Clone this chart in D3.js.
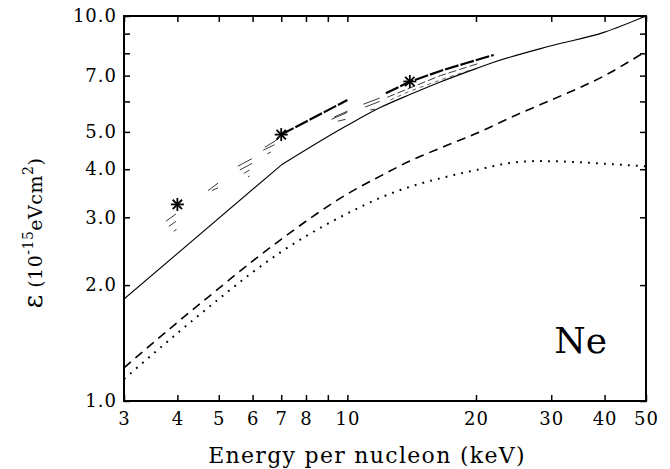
<!DOCTYPE html>
<html>
<head>
<meta charset="utf-8">
<script src="https://cdn.jsdelivr.net/npm/d3@7"></script>
<style>
  body { margin: 0; background: #fff; }
  svg { display: block; }
  text { font-family: "DejaVu Serif", serif; fill: #000; }
</style>
</head>
<body>
<svg id="chart" width="670" height="469"></svg>
<script>
// axis ticks
const xTicks = [3, 4, 5, 6, 7, 8, 9, 10, 20, 30, 40, 50];
const xLabels = [3, 4, 5, 6, 7, 8, 10, 20, 30, 40, 50];
const yTicks = [1, 2, 3, 4, 5, 6, 7, 8, 9, 10];
const yLabels = [1, 2, 3, 4, 5, 7, 10];

// theory curves [energy keV/u, stopping 1e-15 eVcm2]
const solidLow = [[3, 1.84], [7, 4.1]];
const solidHigh = [[7, 4.1], [10, 5.2], [12, 5.8], [14, 6.25], [16.5, 6.74],
  [20, 7.3], [22, 7.58], [30, 8.37], [40, 9.08], [50, 10.0]];
const dashedCurve = [[3, 1.22], [4, 1.6], [5, 1.96], [6, 2.31], [7, 2.63], [8, 2.93], [10, 3.45],
  [12, 3.85], [14, 4.2], [17, 4.6], [20, 4.95], [25, 5.55], [30, 6.05], [40, 7.0], [50, 8.1]];
const dottedCurve = [[3, 1.14], [4, 1.5], [5, 1.84], [6, 2.16], [7, 2.44], [8, 2.68], [10, 3.07],
  [12, 3.38], [14, 3.6], [17, 3.82], [20, 3.98], [24, 4.15], [28, 4.2], [35, 4.17], [42, 4.12], [50, 4.07]];

// experimental data
const stars = [[4, 3.24], [7, 4.92], [14, 6.76]];
const heavyA = [[7, 4.92], [10, 6.05]];
const heavyB = [[12.3, 6.3], [14, 6.75], [16.5, 7.2], [19, 7.55], [22, 7.92]];
const thinA = [[12.4, 6.15], [14, 6.5], [16.5, 7.0], [20.2, 7.52]];
const thinB = [[12.6, 6.05], [14, 6.38], [17, 6.9], [19.5, 7.25]];
const hatchSegs = [
  [3.76, 2.93, 3.97, 3.06], [3.82, 2.84, 3.97, 2.93], [3.92, 2.76, 3.98, 2.79],
  [4.72, 3.52, 4.98, 3.68], [4.82, 3.52, 4.98, 3.58],
  [5.54, 4.07, 5.98, 4.26], [5.6, 3.98, 5.98, 4.14], [5.72, 3.9, 5.9, 3.98], [5.85, 3.82, 5.9, 3.84],
  [6.41, 4.56, 6.92, 4.81], [6.35, 4.48, 6.75, 4.63], [6.5, 4.39, 6.62, 4.43],
  [9.18, 5.39, 10.0, 5.62], [9.3, 5.46, 10.0, 5.66], [9.5, 5.33, 9.9, 5.39],
  [10.9, 5.9, 11.9, 6.12], [11.0, 5.8, 11.9, 6.0], [11.3, 5.7, 11.6, 5.73]
];

const svg = d3.select('#chart');
const mLeft = 124, mRight = 646, mTop = 16, mBottom = 401;

const x = d3.scaleLog().domain([3, 50]).range([mLeft, mRight]);
const y = d3.scaleLog().domain([1, 10]).range([mBottom, mTop]);

const line = d3.line().x(d => x(d[0])).y(d => y(d[1]));
const smooth = d3.line().x(d => x(d[0])).y(d => y(d[1])).curve(d3.curveMonotoneX);

svg.append('clipPath').attr('id', 'plot')
  .append('rect').attr('x', mLeft).attr('y', mTop)
  .attr('width', mRight - mLeft).attr('height', mBottom - mTop);

function styleAxis(g) {
  g.select('.domain').remove();
  g.selectAll('.tick line').attr('stroke', '#000').attr('stroke-width', 1.5);
  g.selectAll('.tick text')
    .attr('font-family', '"DejaVu Serif", serif')
    .attr('font-size', 18)
    .attr('letter-spacing', 1);
}

// axes, ticks pointing inward on all four sides
svg.append('g').attr('transform', `translate(0,${mBottom})`)
  .call(d3.axisBottom(x).tickValues(xTicks)
    .tickFormat(d => xLabels.includes(d) ? String(d) : '')
    .tickSize(-6).tickPadding(11))
  .call(styleAxis);

svg.append('g').attr('transform', `translate(0,${mTop})`)
  .call(d3.axisTop(x).tickValues(xTicks).tickFormat('').tickSize(-6))
  .call(styleAxis);

svg.append('g').attr('transform', `translate(${mLeft},0)`)
  .call(d3.axisLeft(y).tickValues(yTicks)
    .tickFormat(d => yLabels.includes(d) ? d3.format('.1f')(d) : '')
    .tickSize(-6).tickPadding(7))
  .call(styleAxis);

svg.append('g').attr('transform', `translate(${mRight},0)`)
  .call(d3.axisRight(y).tickValues(yTicks).tickFormat('').tickSize(-6))
  .call(styleAxis);

svg.append('rect')
  .attr('x', mLeft).attr('y', mTop)
  .attr('width', mRight - mLeft).attr('height', mBottom - mTop)
  .attr('fill', 'none').attr('stroke', '#000').attr('stroke-width', 2);

const plot = svg.append('g').attr('clip-path', 'url(#plot)');

// theory curves
plot.append('path').datum(solidLow).attr('d', line)
  .attr('fill', 'none').attr('stroke', '#000').attr('stroke-width', 1.1);
plot.append('path').datum(solidHigh).attr('d', smooth)
  .attr('fill', 'none').attr('stroke', '#000').attr('stroke-width', 1.1);
plot.append('path').datum(dashedCurve).attr('d', smooth)
  .attr('fill', 'none').attr('stroke', '#000').attr('stroke-width', 1.6)
  .attr('stroke-dasharray', '9,6');
plot.append('path').datum(dottedCurve).attr('d', smooth)
  .attr('fill', 'none').attr('stroke', '#000').attr('stroke-width', 2)
  .attr('stroke-dasharray', '1.8,6.2');

// experimental pieces
plot.selectAll('.hatch').data(hatchSegs).join('line')
  .attr('x1', d => x(d[0])).attr('y1', d => y(d[1]))
  .attr('x2', d => x(d[2])).attr('y2', d => y(d[3]))
  .attr('stroke', '#222').attr('stroke-width', 0.9);

[heavyA, heavyB].forEach(s => {
  plot.append('path').datum(s).attr('d', line)
    .attr('fill', 'none').attr('stroke', '#000').attr('stroke-width', 2.2)
    .attr('stroke-dasharray', '14,2');
});
plot.append('path').datum(thinA).attr('d', line)
  .attr('fill', 'none').attr('stroke', '#222').attr('stroke-width', 0.9)
  .attr('stroke-dasharray', '8,3');
plot.append('path').datum(thinB).attr('d', line)
  .attr('fill', 'none').attr('stroke', '#333').attr('stroke-width', 0.8)
  .attr('stroke-dasharray', '4,4');

// asterisks
const r = 6.5, rd = r * 0.72;
const starG = plot.selectAll('.star').data(stars).join('g')
  .attr('transform', d => `translate(${x(d[0])},${y(d[1])})`);
[[-r, 0, r, 0], [0, -r, 0, r], [-rd, -rd, rd, rd], [-rd, rd, rd, -rd]].forEach(a => {
  starG.append('line')
    .attr('x1', a[0]).attr('y1', a[1]).attr('x2', a[2]).attr('y2', a[3])
    .attr('stroke', '#000').attr('stroke-width', 1.8);
});

// labels
svg.append('text')
  .attr('x', 367).attr('y', 463)
  .attr('text-anchor', 'middle')
  .attr('font-size', 22).attr('letter-spacing', 1.3)
  .text('Energy per nucleon (keV)');

const yt = svg.append('text')
  .attr('transform', 'translate(42,233) rotate(-90)')
  .attr('text-anchor', 'middle')
  .attr('font-size', 19).attr('letter-spacing', 0.5);
yt.append('tspan').attr('font-size', 26).text('ε');
yt.append('tspan').text(' (10');
yt.append('tspan').attr('font-size', 14).attr('dy', -9).text('-15');
yt.append('tspan').attr('dy', 9).text('eVcm');
yt.append('tspan').attr('font-size', 14).attr('dy', -9).text('2');
yt.append('tspan').attr('dy', 9).text(')');

svg.append('text')
  .attr('x', 607).attr('y', 353)
  .attr('text-anchor', 'end')
  .attr('font-size', 36)
  .text('Ne');
</script>
</body>
</html>
